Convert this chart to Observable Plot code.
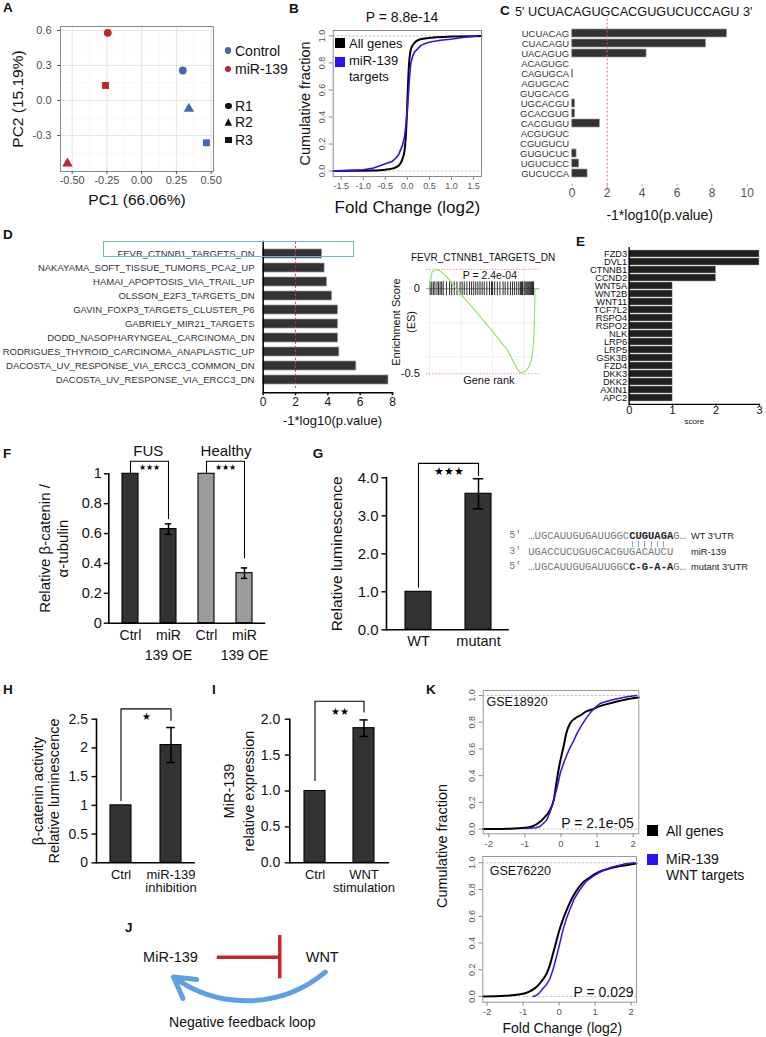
<!DOCTYPE html>
<html><head><meta charset="utf-8">
<script src="https://cdn.jsdelivr.net/npm/d3@7"></script>
<script src="https://cdn.jsdelivr.net/npm/@observablehq/plot@0.6"></script>
<style>
html,body{margin:0;padding:0;background:#fff;}
#fig{position:relative;width:766px;height:1037px;overflow:hidden;font-family:"Liberation Sans",Arial,sans-serif;color:#111;}
.pl{position:absolute;}
.pl svg{display:block;overflow:visible;background:transparent;max-width:none;}
.t{position:absolute;white-space:pre;line-height:1;}
</style></head><body><div id="fig"></div>
<script>
// ================= DATA =================
// A: PCA
const pcaGroup = ["Control","Control","Control","miR-139","miR-139","miR-139"];
const pcaRep = ["R1","R2","R3","R1","R2","R3"];
const pc1 = [0.296, 0.34, 0.466, -0.244, -0.534, -0.26];
const pc2 = [0.257, -0.071, -0.362, 0.58, -0.54, 0.129];
const pcaXTicks = [-0.5, -0.25, 0, 0.25, 0.5];
const pcaXMinor = [-0.375, -0.125, 0.125, 0.375];
const pcaYTicks = [-0.3, 0, 0.3, 0.6];
const pcaYMinor = [-0.45, -0.15, 0.15, 0.45];
const pcaColors = ["#4169AE", "#C0262D"];

// B: CDF all genes vs miR-139 targets
const bAllX = [-1.68,-1.2,-0.8,-0.5,-0.35,-0.25,-0.15,-0.1,-0.06,-0.03,-0.01,0.01,0.03,0.05,0.08,0.12,0.18,0.25,0.4,0.6,1.0,1.68];
const bAllY = [0,0.002,0.004,0.01,0.018,0.03,0.06,0.1,0.16,0.28,0.42,0.6,0.75,0.84,0.9,0.93,0.955,0.97,0.98,0.988,0.995,1.0];
const bTgtX = [-1.68,-1.3,-1.0,-0.8,-0.62,-0.5,-0.35,-0.25,-0.2,-0.11,-0.06,-0.03,0.0,0.02,0.05,0.08,0.12,0.16,0.25,0.31,0.45,0.61,0.8,0.98,1.3,1.6];
const bTgtY = [0,0.005,0.01,0.02,0.04,0.055,0.07,0.1,0.12,0.19,0.26,0.35,0.45,0.55,0.7,0.8,0.85,0.88,0.91,0.93,0.95,0.96,0.97,0.975,0.99,1.0];
const cdfXTicksB = [-1.5,-1,-0.5,0,0.5,1,1.5];
const cdfYTicks = [0,0.2,0.4,0.6,0.8,1];

// C: seed-window motifs
const cMotifs = ["UCUACAG","CUACAGU","UACAGUG","ACAGUGC","CAGUGCA","AGUGCAC","GUGCACG","UGCACGU","GCACGUG","CACGUGU","ACGUGUC","CGUGUCU","GUGUCUC","UGUCUCC","GUCUCCA"];
const cScore = [8.85,7.65,4.25,0,0.05,0,0,0.17,0.17,1.58,0,0,0.25,0.4,0.88];
const cTicks = [0,2,4,6,8,10];

// D: gene sets
const dSets = ["FEVR_CTNNB1_TARGETS_DN","NAKAYAMA_SOFT_TISSUE_TUMORS_PCA2_UP","HAMAI_APOPTOSIS_VIA_TRAIL_UP","OLSSON_E2F3_TARGETS_DN","GAVIN_FOXP3_TARGETS_CLUSTER_P6","GABRIELY_MIR21_TARGETS","DODD_NASOPHARYNGEAL_CARCINOMA_DN","RODRIGUES_THYROID_CARCINOMA_ANAPLASTIC_UP","DACOSTA_UV_RESPONSE_VIA_ERCC3_COMMON_DN","DACOSTA_UV_RESPONSE_VIA_ERCC3_DN"];
const dScore = [3.64,3.8,3.95,4.26,4.63,4.63,4.63,4.71,5.76,7.75];
const dTicks = [0,2,4,6,8];

// D inset: GSEA running enrichment score
const esRank = [0,0.022,0.054,0.1,0.166,0.26,0.42,0.58,0.74,0.834,0.866,0.914,0.946,0.968,0.987,0.997,1.003,1.003];
const esVal = [0.006,0.098,0.113,0.104,0.068,-0.006,-0.118,-0.236,-0.359,-0.471,-0.496,-0.484,-0.461,-0.422,-0.343,-0.226,-0.069,0];
const esBarcode = [0.005,0.02,0.035,0.05,0.07,0.085,0.1,0.115,0.13,0.16,0.19,0.21,0.235,0.26,0.29,0.31,0.33,0.355,0.38,0.4,0.42,0.44,0.46,0.48,0.5,0.52,0.545,0.57,0.59,0.6,0.62,0.645,0.67,0.7,0.72,0.745,0.77,0.79,0.81,0.83,0.85,0.865,0.875,0.885,0.9,0.91,0.92,0.93,0.94,0.95,0.96,0.97,0.98,0.99];
const esExtremes = [0.114, -0.5];
const esGridX = [0, 0.3, 0.6, 0.9];
const esGridY = [-0.2, -0.4];

// E: WNT genes score
const eGenes = ["FZD3","DVL1","CTNNB1","CCND2","WNT5A","WNT2B","WNT11","TCF7L2","RSPO4","RSPO2","NLK","LRP6","LRP5","GSK3B","FZD4","DKK3","DKK2","AXIN1","APC2"];
const eScore = [3,3,2,2,1,1,1,1,1,1,1,1,1,1,1,1,1,1,1];
const eTicks = [0,1,2,3];

// F: western blot quantification
const fCats = ["FUS Ctrl","FUS miR","Healthy Ctrl","Healthy miR"];
const fLabels = ["Ctrl","miR\n139 OE","Ctrl","miR\n139 OE"];
const fGroup = ["FUS","FUS","Healthy","Healthy"];
const fMean = [1, 0.63, 1, 0.335];
const fErr = [0, 0.035, 0, 0.035];
const fBrackets = [
  {a:"FUS Ctrl", b:"FUS miR", top:1.084, aLow:1.0, bLow:0.70, starY:1.044, stars:"★★★"},
  {a:"Healthy Ctrl", b:"Healthy miR", top:1.084, aLow:1.0, bLow:0.438, starY:1.044, stars:"★★★"}
];

// G: luciferase reporter
const gCats = ["WT","mutant"];
const gMean = [1, 3.58];
const gErr = [0, 0.395];
const gBracket = [{a:"WT", b:"mutant", top:4.38, aLow:1.12, bLow:4.06, starY:4.15, stars:"★★★"}];
const seqPrime = ["5′","3′","5′"];
const seqPre = ["…UGCAUUGUGAUUGGC","UGACCUCUGUGCACGUGACAUCU","…UGCAUUGUGAUUGGC"];
const seqBold = ["CUGUAGA","","C-G-A-A"];
const seqPost = ["G…","","G…"];
const seqName = ["WT 3'UTR","miR-139","mutant 3'UTR"];
const seqPairs = [16,17,18,19,20,21]; // paired base positions (pipes)

// H: TOPflash
const hCats = ["Ctrl","miR-139\ninhibition"];
const hMean = [1, 2.05];
const hErr = [0, 0.305];
const hBracket = [{a:"Ctrl", b:"miR-139\ninhibition", top:2.68, aLow:1.085, bLow:2.48, starY:2.54, stars:"★"}];

// I: miR-139 expression
const iCats = ["Ctrl","WNT\nstimulation"];
const iMean = [1, 1.875];
const iErr = [0, 0.115];
const iBracket = [{a:"Ctrl", b:"WNT\nstimulation", top:2.25, aLow:1.146, bLow:2.10, starY:2.10, stars:"★★"}];

// J: diagram
const jNodes = ["MiR-139","WNT"];
const jNodeX = [0, 1];
const jInhibit = [{x1:0.308, x2:0.72}];
const jBar = [0.72];
const jArrow = [{x1:1.02, y1:-0.69, x2:0.02, y2:-0.92}];
const jCaption = [{text:"Negative feedback loop", x:0.473, y:-3.0}];

// K: CDFs in two datasets
const kTopAllX = [-2.155,-1.5,-1.0,-0.8,-0.58,-0.45,-0.31,-0.2,-0.13,-0.05,0.065,0.15,0.25,0.4,0.53,0.7,0.9,1.08,1.27,1.55,1.8,2.155];
const kTopAllY = [0,0.003,0.01,0.02,0.055,0.09,0.14,0.22,0.34,0.47,0.61,0.72,0.79,0.83,0.85,0.88,0.9,0.92,0.935,0.955,0.97,0.985];
const kTopTgtX = [-1.0,-0.7,-0.58,-0.5,-0.39,-0.3,-0.2,-0.1,-0.02,0.08,0.17,0.25,0.35,0.45,0.58,0.7,0.81,0.95,1.08,1.25,1.46,1.83,2.1];
const kTopTgtY = [0.005,0.01,0.02,0.04,0.07,0.13,0.22,0.32,0.42,0.5,0.56,0.61,0.66,0.72,0.78,0.83,0.87,0.91,0.94,0.955,0.97,0.99,1.0];
const kBotAllX = [-2.12,-1.5,-1.0,-0.8,-0.63,-0.5,-0.35,-0.25,-0.17,-0.08,0,0.1,0.2,0.33,0.48,0.65,0.85,1.05,1.31,1.6,2.05,2.15];
const kBotAllY = [0,0.005,0.02,0.04,0.07,0.11,0.17,0.24,0.32,0.41,0.49,0.57,0.64,0.72,0.79,0.85,0.89,0.925,0.95,0.97,0.99,0.995];
const kBotTgtX = [-0.72,-0.62,-0.54,-0.45,-0.35,-0.26,-0.17,-0.07,0.02,0.11,0.2,0.3,0.42,0.58,0.75,0.95,1.2,1.5,1.8,2.1];
const kBotTgtY = [0,0.01,0.03,0.06,0.09,0.13,0.2,0.3,0.4,0.5,0.58,0.65,0.73,0.8,0.86,0.9,0.94,0.97,0.99,1.0];
const kXTicks = [-2,-1,0,1,2];

// ================= HELPERS =================
const fig = document.getElementById("fig");
const FONT = '"Liberation Sans", Arial, Helvetica, sans-serif';
const MONO = '"Liberation Mono", "DejaVu Sans Mono", monospace';
const BLUE = "#2B14F0";
const st = (fs) => ({fontFamily: FONT, fontSize: fs + "px", background: "transparent", overflow: "visible", color: "#111"});
function place(svg, left, top) {
  const d = document.createElement("div");
  d.className = "pl"; d.style.left = left + "px"; d.style.top = top + "px";
  d.appendChild(svg); fig.appendChild(d); return d;
}
function label(txt, x, y, o = {}) {
  const d = document.createElement("div");
  d.className = "t"; d.textContent = txt;
  const ax = o.anchor === "middle" ? "-50%" : o.anchor === "end" ? "-100%" : "0";
  d.style.left = x + "px"; d.style.top = y + "px";
  d.style.fontSize = (o.size || 13) + "px";
  if (o.weight) d.style.fontWeight = o.weight;
  if (o.color) d.style.color = o.color;
  if (o.family) d.style.fontFamily = o.family;
  if (o.lh) d.style.lineHeight = o.lh;
  d.style.transform = `translate(${ax},-50%)` + (o.rotate ? ` rotate(${o.rotate}deg)` : "");
  fig.appendChild(d); return d;
}
function swatch(x, y, size, color, shape) {
  const d = document.createElement("div");
  d.style.cssText = `position:absolute;left:${x - size / 2}px;top:${y - size / 2}px;width:${size}px;height:${size}px;background:${color};`;
  if (shape === "circle") d.style.borderRadius = "50%";
  if (shape === "triangle") d.style.clipPath = "polygon(50% 0, 100% 100%, 0 100%)";
  fig.appendChild(d);
}
const pts = (xs, ys) => xs.map((x, i) => ({x, y: ys[i]}));
const mid = {textAnchor: "middle", lineAnchor: "middle"};
function bandStep(w, n, pi, po) { return w / (n - pi + 2 * po); }

// panel letters
[["A",3,8],["B",289,8.5],["C",500,11],["D",3,235],["E",576,241.5],["F",3,453.5],["G",312.7,453.8],["H",3,690],["I",212,690],["J",125,928],["K",426,690]]
  .forEach(([t, x, y]) => label(t, x, y, {size: 13.5, weight: "bold"}));

// ================= A =================
const pca = pc1.map((x, i) => ({pc1: x, pc2: pc2[i], group: pcaGroup[i], rep: pcaRep[i]}));
place(Plot.plot({
  width: 226, height: 215, marginLeft: 60, marginRight: 13, marginTop: 26, marginBottom: 44,
  style: st(11),
  x: {domain: [-0.584, 0.517]}, y: {domain: [-0.608, 0.634]},
  color: {domain: ["Control", "miR-139"], range: pcaColors},
  symbol: {domain: ["R1", "R2", "R3"], range: ["circle", "triangle", "square"]},
  marks: [
    Plot.ruleX(pcaXMinor, {stroke: "#F3F3F3", strokeWidth: 0.7}),
    Plot.ruleY(pcaYMinor, {stroke: "#F3F3F3", strokeWidth: 0.7}),
    Plot.ruleX(pcaXTicks, {stroke: "#E6E6E6", strokeWidth: 1.1}),
    Plot.ruleY(pcaYTicks, {stroke: "#E6E6E6", strokeWidth: 1.1}),
    Plot.frame({stroke: "#8a8a8a"}),
    Plot.axisX({ticks: pcaXTicks, tickFormat: d => d.toFixed(2), tickSize: 3, tickPadding: 2, stroke: "#555", fill: "#4D4D4D", label: null, fontSize: 11}),
    Plot.axisY({ticks: pcaYTicks, tickFormat: d => d.toFixed(1), tickSize: 3, tickPadding: 6, stroke: "#555", fill: "#4D4D4D", label: null, fontSize: 11}),
    Plot.dot(pca, {x: "pc1", y: "pc2", fill: "group", symbol: "rep", r: 3.9}),
    Plot.text(["PC1 (66.06%)"], {frameAnchor: "bottom", dy: 29, fontSize: 15.5, ...mid}),
    Plot.text(["PC2 (15.19%)"], {frameAnchor: "left", dx: -42, rotate: -90, fontSize: 15.5, ...mid})
  ]
}), 0, 0);
// legend A
swatch(228, 50.7, 6.7, pcaColors[0], "circle"); label("Control", 235, 50.7, {size: 14});
swatch(228, 69, 6.7, pcaColors[1], "circle"); label("miR-139", 235, 69, {size: 14});
swatch(228.3, 106, 6.7, "#111", "circle"); label("R1", 235, 106, {size: 14});
swatch(228.3, 122, 7.5, "#111", "triangle"); label("R2", 235, 122.3, {size: 14});
swatch(228.3, 140, 6.7, "#111", "square"); label("R3", 235, 140, {size: 14});

// ================= B =================
place(Plot.plot({
  width: 210, height: 220, marginLeft: 52.7, marginRight: 9, marginTop: 30, marginBottom: 44,
  style: st(9),
  x: {domain: [-1.68, 1.68]}, y: {domain: [-0.04, 1.04]},
  marks: [
    Plot.ruleY([0, 1], {stroke: "#aaa", strokeDasharray: "2,2", strokeWidth: 0.8}),
    Plot.line(pts(bAllX, bAllY), {x: "x", y: "y", stroke: "#000", strokeWidth: 2, curve: "monotone-x"}),
    Plot.line(pts(bTgtX, bTgtY), {x: "x", y: "y", stroke: BLUE, strokeWidth: 1.6}),
    Plot.frame({stroke: "#8a8a8a"}),
    Plot.axisX({ticks: cdfXTicksB, tickFormat: d => d.toFixed(1), tickSize: 4, tickPadding: 2, stroke: "#888", fill: "#555", label: null, fontSize: 9}),
    Plot.axisY({ticks: cdfYTicks, tickFormat: () => "", tickSize: 4, stroke: "#888", label: null}),
    Plot.text(cdfYTicks, {y: d => d, text: d => d.toFixed(1), frameAnchor: "left", dx: -11, rotate: -90, fill: "#555", fontSize: 9, ...mid}),
    Plot.text(["Cumulative fraction"], {frameAnchor: "left", dx: -28, rotate: -90, fontSize: 14.5, ...mid}),
    Plot.text(["Fold Change (log2)"], {frameAnchor: "bottom", dy: 31, fontSize: 17, ...mid})
  ]
}), 280, 0);
label("P = 8.8e-14", 402, 17, {size: 14, anchor: "middle"});
swatch(340, 43, 10, "#000", "square"); label("All genes", 349, 43, {size: 13});
swatch(340, 62, 10.5, BLUE, "square"); label("miR-139\ntargets", 349, 68.5, {size: 13, lh: 1.25});

// ================= C =================
label("5' UCUACAGUGCACGUGUCUCCAGU 3'", 515, 12, {size: 12.7});
place(Plot.plot({
  width: 266, height: 225, marginLeft: 71.7, marginRight: 19.3, marginTop: 21.6, marginBottom: 40.7,
  style: st(9.5),
  x: {domain: [0, 10]}, y: {domain: cMotifs, padding: 0.25},
  marks: [
    Plot.barX(cMotifs.map((m, i) => ({m, v: cScore[i]})), {x: "v", y: "m", fill: "#333", stroke: "#9a9a9a", strokeWidth: 0.7}),
    Plot.ruleX([2], {stroke: "#E06060", strokeDasharray: "2,2", strokeWidth: 0.9, insetTop: -7, insetBottom: -4}),
    Plot.axisY({tickSize: 0, tickPadding: 3, fill: "#333", label: null, fontSize: 9.5}),
    Plot.axisX({ticks: cTicks, tickFormat: d => String(d), tickSize: 2, tickPadding: 2, stroke: "#999", fill: "#555", label: null, fontSize: 12}),
    Plot.text(["-1*log10(p.value)"], {frameAnchor: "bottom", dy: 31, fontSize: 14, ...mid})
  ]
}), 500, 0);

// ================= D =================
place(Plot.plot({
  width: 400, height: 200, marginLeft: 262.7, marginRight: 8, marginTop: 10.8, marginBottom: 37.7,
  style: st(9.5),
  x: {domain: [0, 8]}, y: {domain: dSets, padding: 0.36},
  marks: [
    Plot.barX(dSets.map((s, i) => ({s, v: dScore[i]})), {x: "v", y: "s", fill: "#333", stroke: "#999", strokeWidth: 0.7}),
    Plot.ruleX([2], {stroke: "#E03535", strokeDasharray: "2,2", strokeWidth: 1, insetTop: 1, insetBottom: 4}),
    Plot.ruleX([0], {stroke: "#000", strokeWidth: 1.5}),
    Plot.frame({anchor: "bottom", stroke: "#000", strokeWidth: 1.5}),
    Plot.axisY({tickSize: 0, tickPadding: 8.7, fill: "#333", label: null, fontSize: 9.5}),
    Plot.axisX({ticks: dTicks, tickFormat: d => String(d), tickSize: 3, tickPadding: 2, strokeWidth: 1.5, fill: "#111", label: null, fontSize: 12}),
    Plot.text(["-1*log10(p.value)"], {frameAnchor: "bottom", dy: 27.7, dx: 4.6, fontSize: 13, ...mid})
  ]
}), 0, 230);
(() => { const b = document.createElement("div");
  b.style.cssText = "position:absolute;left:103.3px;top:240.7px;width:250.7px;height:16px;border:1.5px solid #6BB5E8;box-sizing:border-box;";
  fig.appendChild(b); })();

// D inset GSEA
place(Plot.plot({
  width: 170, height: 150, marginLeft: 46, marginRight: 10.7, marginTop: 21, marginBottom: 18,
  style: st(11),
  x: {domain: [-0.03, 1.05], axis: null}, y: {domain: [-0.522, 0.131]},
  marks: [
    Plot.ruleX(esGridX, {stroke: "#EFEFEF"}),
    Plot.ruleY(esGridY, {stroke: "#EFEFEF"}),
    Plot.ruleY(esExtremes, {stroke: "#F08080", strokeDasharray: "1.5,1.5", strokeWidth: 0.8}),
    Plot.ruleY([0], {stroke: "#777", strokeWidth: 0.8}),
    Plot.ruleX(esBarcode, {y1: 0.04, y2: -0.04, stroke: "#111", strokeWidth: 0.9}),
    Plot.line(pts(esRank, esVal), {x: "x", y: "y", stroke: "#8EE060", strokeWidth: 1.1}),
    Plot.axisY({ticks: [0, -0.5], tickFormat: d => d === 0 ? "0" : "-0.5", tickSize: 0, tickPadding: 6.7, label: null, fontSize: 11}),
    Plot.text(["FEVR_CTNNB1_TARGETS_DN"], {frameAnchor: "top", dy: -8.7, fontSize: 10, ...mid}),
    Plot.text(["P = 2.4e-04"], {frameAnchor: "top", dy: 9, dx: 6.7, fontSize: 10.5, ...mid}),
    Plot.text(["Gene rank"], {frameAnchor: "bottom", dy: 3, dx: 5.7, fontSize: 11, ...mid}),
    Plot.text(["Enrichment Score\n(ES)"], {frameAnchor: "left", dx: -23.5, rotate: -90, fontSize: 11, lineHeight: 1.3, ...mid})
  ]
}), 380, 245);

// ================= E =================
place(Plot.plot({
  width: 196, height: 195, marginLeft: 58.7, marginRight: 7, marginTop: 12.1, marginBottom: 26.1,
  style: st(9.3),
  x: {domain: [0, 3]}, y: {domain: eGenes, padding: 0.12},
  marks: [
    Plot.barX(eGenes.map((g, i) => ({g, v: eScore[i]})), {x: "v", y: "g", fill: "#1f1f1f", stroke: "#aaa", strokeWidth: 0.5}),
    Plot.ruleX([0], {stroke: "#000", strokeWidth: 1.3}),
    Plot.frame({anchor: "bottom", stroke: "#000", strokeWidth: 1.3}),
    Plot.axisY({tickSize: 0, tickPadding: 2, fill: "#111", label: null, fontSize: 9.3}),
    Plot.axisX({ticks: eTicks, tickFormat: d => String(d), tickSize: 2, tickPadding: 0, label: null, fontSize: 11}),
    Plot.text(["score"], {frameAnchor: "bottom", dy: 16.8, fontSize: 8, ...mid})
  ]
}), 570, 235);

// ================= bar chart helper (F, G, H, I) =================
function barPanel(o) {
  const data = o.cats.map((c, i) => ({c, m: o.mean[i], lo: o.mean[i] - o.err[i], hi: o.mean[i] + o.err[i], e: o.err[i], g: o.group ? o.group[i] : "a"}));
  const fw = o.width - o.ml - o.mr;
  const step = bandStep(fw, o.cats.length, o.pi, o.po);
  const brLines = [];
  o.brackets.forEach((b, k) => {
    brLines.push({k, x: b.a, y: b.aLow}, {k, x: b.a, y: b.top}, {k, x: b.b, y: b.top}, {k, x: b.b, y: b.bLow});
  });
  return Plot.plot({
    width: o.width, height: o.height, marginLeft: o.ml, marginRight: o.mr, marginTop: o.mt, marginBottom: o.mb,
    style: st(o.fs),
    x: {type: "band", domain: o.cats, paddingInner: o.pi, paddingOuter: o.po},
    y: {domain: o.ydomain},
    color: {domain: o.groupDomain || ["a"], range: o.fills},
    marks: [
      Plot.barY(data, {x: "c", y: "m", fill: "g", stroke: "#000", strokeWidth: 1.1}),
      Plot.ruleX(data.filter(d => d.e > 0), {x: "c", y1: "lo", y2: "hi", stroke: "#000", strokeWidth: 1.5}),
      Plot.tickY(data.filter(d => d.e > 0), {x: "c", y: "lo", stroke: "#000", strokeWidth: 1.5, inset: step * (1 - o.pi) * 0.3}),
      Plot.tickY(data.filter(d => d.e > 0), {x: "c", y: "hi", stroke: "#000", strokeWidth: 1.5, inset: step * (1 - o.pi) * 0.3}),
      Plot.line(brLines, {x: "x", y: "y", z: "k", stroke: "#000", strokeWidth: 1.1}),
      Plot.text(o.brackets, {x: "a", y: "starY", text: "stars", dx: step / 2, fontSize: o.starSize, fill: "#000", ...mid}),
      Plot.ruleY([0], {stroke: "#000", strokeWidth: 1.6}),
      Plot.frame({anchor: "left", stroke: "#000", strokeWidth: 1.6}),
      Plot.axisY({ticks: o.yticks, tickFormat: o.yfmt, tickSize: 4.5, tickPadding: o.ytp, strokeWidth: 1.5, label: null, fontSize: o.fs}),
      Plot.axisX({tickSize: 0, tickPadding: o.xtp, tickFormat: o.xfmt, label: null, fontSize: o.xfs, lineHeight: o.xlh}),
      Plot.text([o.ylabel], {frameAnchor: "left", dx: o.ylx, rotate: -90, fontSize: o.yls, lineHeight: o.ylh, ...mid})
    ]
  });
}

// ================= F =================
place(barPanel({
  cats: fCats, mean: fMean, err: fErr, group: fGroup, groupDomain: ["FUS", "Healthy"], fills: ["#333333", "#9C9C9C"],
  width: 270, height: 225, ml: 108.3, mr: 4.8, mt: 33.3, mb: 42.3, pi: 0.58, po: 0.338,
  ydomain: [0, 1], yticks: [0, 0.2, 0.4, 0.6, 0.8, 1], yfmt: d => String(d), ytp: 2.5, fs: 14.5,
  xfmt: d => fLabels[fCats.indexOf(d)], xtp: 3, xfs: 14, xlh: 1.4,
  brackets: fBrackets, starSize: 8,
  ylabel: "Relative β-catenin /\nα-tubulin", ylx: -55.8, yls: 15, ylh: 1.23
}), 0, 440);
label("FUS", 148.3, 450, {size: 15, anchor: "middle"});
label("Healthy", 226, 450, {size: 15, anchor: "middle"});

// ================= G =================
place(barPanel({
  cats: gCats, mean: gMean, err: gErr, fills: ["#333333"],
  width: 220, height: 215, ml: 86, mr: 11.2, mt: 37.3, mb: 25.7, pi: 0.572, po: 0.296,
  ydomain: [0, 4], yticks: [0, 1, 2, 3, 4], yfmt: d => d.toFixed(1), ytp: 3.5, fs: 15,
  xfmt: d => d, xtp: 6, xfs: 14.5, xlh: 1,
  brackets: gBracket, starSize: 10.5,
  ylabel: "Relative luminescence", ylx: -49.3, yls: 15.5, ylh: 1
}), 300, 440);
// sequences
const seqY = [536, 552.3, 567.3];
const seqX0 = 528.3, seqCh = 6.3;
seqY.forEach((y, i) => {
  label(seqPrime[i], 509.3, y, {size: 10, color: "#777", family: MONO});
  const d = label("", seqX0, y, {size: 10.5, color: "#777", family: MONO});
  d.appendChild(document.createTextNode(seqPre[i]));
  if (seqBold[i]) { const b = document.createElement("b"); b.textContent = seqBold[i]; b.style.color = "#222"; d.appendChild(b); }
  d.appendChild(document.createTextNode(seqPost[i]));
  label(seqName[i], 691, y + 1, {size: 9.3, color: "#222"});
});
seqPairs.forEach(k => {
  const p = document.createElement("div");
  p.style.cssText = `position:absolute;left:${seqX0 + seqCh * (k + 0.5) - 0.5}px;top:540.5px;width:1.1px;height:6.5px;background:#6AAEE6;`;
  fig.appendChild(p);
});

// ================= H =================
place(barPanel({
  cats: hCats, mean: hMean, err: hErr, fills: ["#333333"],
  width: 210, height: 210, ml: 96, mr: 15.2, mt: 28.7, mb: 37.7, pi: 0.59, po: 0.279,
  ydomain: [0, 2.5], yticks: [0, 0.5, 1, 1.5, 2, 2.5], yfmt: d => String(d), ytp: 4, fs: 14,
  xfmt: d => d, xtp: 7, xfs: 13, xlh: 1.02,
  brackets: hBracket, starSize: 10,
  ylabel: "β-catenin activity\nRelative luminescence", ylx: -51, yls: 14.5, ylh: 1.15
}), 0, 690);

// ================= I =================
place(barPanel({
  cats: iCats, mean: iMean, err: iErr, fills: ["#333333"],
  width: 200, height: 210, ml: 89.3, mr: 10.8, mt: 28.7, mb: 37.7, pi: 0.57, po: 0.294,
  ydomain: [0, 2], yticks: [0, 0.5, 1, 1.5, 2], yfmt: d => d.toFixed(1), ytp: 5, fs: 14,
  xfmt: d => d, xtp: 7, xfs: 13, xlh: 1.02,
  brackets: iBracket, starSize: 10,
  ylabel: "MiR-139\nrelative expression", ylx: -52.6, yls: 14.5, ylh: 1.38
}), 200, 690);

// ================= J =================
place(Plot.plot({
  width: 400, height: 137, margin: 0,
  x: {domain: [0, 1], range: [170, 321.7], axis: null},
  y: {domain: [-1, 1], range: [78.3, 35], axis: null},
  style: st(14),
  marks: [
    Plot.text(jNodes, {x: (d, i) => jNodeX[i], y: () => 0, text: d => d, fontSize: 14.5, ...mid}),
    Plot.ruleY(jInhibit, {x1: "x1", x2: "x2", y: () => 0, stroke: "#CC2229", strokeWidth: 3.5}),
    Plot.ruleX(jBar, {x: d => d, y1: -1, y2: 1, stroke: "#CC2229", strokeWidth: 3.5}),
    Plot.arrow(jArrow, {x1: "x1", y1: "y1", x2: "x2", y2: "y2", bend: 38, stroke: "#5FA0E3", strokeWidth: 5, headLength: 7}),
    Plot.text(jCaption, {x: "x", y: "y", text: "text", fontSize: 14, ...mid})
  ]
}), 0, 900);

// ================= K =================
function kPanel(o) {
  return Plot.plot({
    width: 260, height: o.height, marginLeft: o.ml, marginRight: o.mr, marginTop: o.mt, marginBottom: o.mb,
    style: st(9.5),
    x: {domain: o.xd}, y: {domain: o.yd},
    marks: [
      Plot.ruleY([0, 1], {stroke: "#aaa", strokeDasharray: "2,2", strokeWidth: 0.8}),
      Plot.line(pts(o.ax, o.ay), {x: "x", y: "y", stroke: "#000", strokeWidth: 2, curve: "monotone-x"}),
      Plot.line(pts(o.tx, o.ty), {x: "x", y: "y", stroke: BLUE, strokeWidth: 1.5}),
      Plot.frame({stroke: "#999"}),
      Plot.axisX({ticks: kXTicks, tickFormat: d => String(d), tickSize: 4, tickPadding: 2.5, stroke: "#888", fill: "#555", label: null, fontSize: 9.5}),
      Plot.axisY({ticks: cdfYTicks, tickFormat: () => "", tickSize: 4, stroke: "#888", label: null}),
      Plot.text(cdfYTicks, {y: d => d, text: d => d.toFixed(1), frameAnchor: "left", dx: -11, rotate: -90, fill: "#555", fontSize: 9, ...mid}),
      Plot.text([o.name], {frameAnchor: "top-left", dx: o.ndx, dy: o.ndy, fontSize: 12.5, textAnchor: "start", lineAnchor: "middle"}),
      Plot.text([o.p], {frameAnchor: "bottom-right", dx: o.pdx, dy: -10, fontSize: 14, textAnchor: "end", lineAnchor: "middle"}),
      ...(o.xlabel ? [Plot.text([o.xlabel], {frameAnchor: "bottom", dy: 26.6, dx: 2.7, fontSize: 14, ...mid})] : [])
    ]
  });
}
place(kPanel({height: 170, ml: 82.7, mr: 21.7, mt: 10, mb: 16.7, xd: [-2.155, 2.155], yd: [-0.035, 1.037],
  ax: kTopAllX, ay: kTopAllY, tx: kTopTgtX, ty: kTopTgtY, name: "GSE18920", ndx: 3.3, ndy: 11.7, p: "P = 2.1e-05", pdx: -5}), 400, 680);
place(kPanel({height: 187, ml: 82.3, mr: 24, mt: 6, mb: 35.3, xd: [-2.12, 2.15], yd: [-0.043, 1.047],
  ax: kBotAllX, ay: kBotAllY, tx: kBotTgtX, ty: kBotTgtY, name: "GSE76220", ndx: 7, ndy: 14, p: "P = 0.029", pdx: -3, xlabel: "Fold Change (log2)"}), 400, 850);
label("Cumulative fraction", 441.7, 846, {size: 14.5, anchor: "middle", rotate: -90});
swatch(652.7, 830.7, 11, "#000", "square"); label("All genes", 666, 830.7, {size: 14});
swatch(652.7, 859.3, 11, BLUE, "square"); label("MiR-139\nWNT targets", 666, 867.6, {size: 14, lh: 1.2});
</script></body></html>
